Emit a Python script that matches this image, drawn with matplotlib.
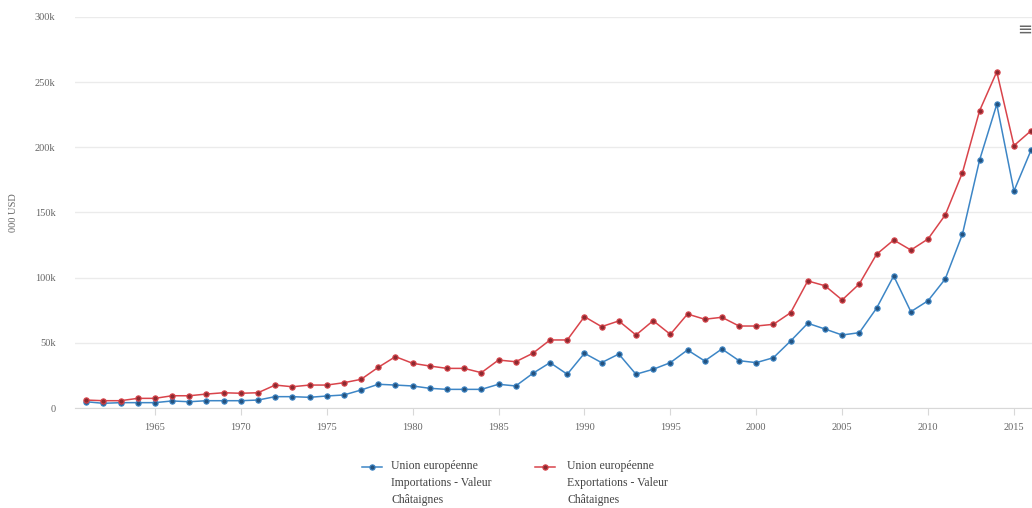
import matplotlib
matplotlib.use("Agg")
import matplotlib.pyplot as plt
from matplotlib.lines import Line2D

# years 1961 - 2016
years = list(range(1961, 2017))

# Union européenne, Importations - Valeur, Châtaignes (000 USD, in k)
imports_k = [4.8, 3.6, 4.1, 4.1, 4.1, 5.4, 4.8, 5.6, 5.6, 5.6,
             6.1, 8.7, 8.7, 8.2, 9.2, 10.0, 13.8, 18.2, 17.6, 16.9,
             15.1, 14.3, 14.3, 14.3, 18.2, 16.9, 26.6, 34.8, 25.9, 42.0,
             34.8, 41.4, 25.9, 29.7, 34.8, 44.5, 36.1, 45.3, 36.3, 34.8,
             38.6, 51.4, 65.0, 60.6, 56.0, 57.8, 76.5, 101.3, 73.9, 82.3,
             99.0, 133.3, 190.3, 233.0, 166.5, 198.0]

# Union européenne, Exportations - Valeur, Châtaignes (000 USD, in k)
exports_k = [6.1, 5.6, 5.6, 7.4, 7.4, 9.4, 9.4, 10.7, 11.7, 11.3,
             11.7, 17.6, 16.3, 17.6, 17.6, 19.4, 22.0, 31.2, 39.4, 34.3,
             32.2, 30.4, 30.4, 27.1, 36.8, 35.5, 42.0, 52.2, 52.2, 70.1,
             62.4, 66.8, 56.0, 67.0, 56.5, 72.1, 68.1, 69.6, 62.9, 62.9,
             64.2, 73.1, 97.5, 93.8, 82.9, 95.2, 117.9, 128.9, 121.2, 129.7,
             148.1, 180.5, 228.1, 258.0, 201.3, 212.8]

x_ticks = [1965, 1970, 1975, 1980, 1985, 1990, 1995, 2000, 2005, 2010, 2015]
y_ticks = [0, 50, 100, 150, 200, 250, 300]
y_tick_labels = ["0", "50k", "100k", "150k", "200k", "250k", "300k"]

label_imp = "Union européenne\nImportations - Valeur\nChâtaignes"
label_exp = "Union européenne\nExportations - Valeur\nChâtaignes"

blue = "#3d86c6"
red = "#d9444b"
blue_dark = "#24527f"
red_dark = "#8c2a30"
txt = "#666666"

W, H = 1032, 508
fig = plt.figure(figsize=(W / 100, H / 100), dpi=100)
ax = fig.add_axes([75 / W, 1 - 408 / H, (W - 75) / W, 391 / H])

ax.plot(years, imports_k, color=blue, lw=1.1, marker="o", ms=3.8,
        mfc=blue_dark, mec=blue, mew=0.8, clip_on=False, zorder=3)
ax.plot(years, exports_k, color=red, lw=1.1, marker="o", ms=3.8,
        mfc=red_dark, mec=red, mew=0.8, clip_on=False, zorder=3)

ax.set_xlim(1960.35, 2016.05)
ax.set_ylim(0, 300)
ax.set_yticks(y_ticks)
ax.set_yticklabels(y_tick_labels)
ax.set_xticks(x_ticks)
ax.grid(axis="y", color="#ebebeb", lw=1)
ax.set_axisbelow(True)

for s in ["top", "right", "left"]:
    ax.spines[s].set_visible(False)
ax.spines["bottom"].set_color("#d8d8d8")
ax.tick_params(axis="y", length=0, pad=14, labelsize=7.5, labelcolor=txt)
ax.tick_params(axis="x", length=5, color="#d8d8d8", pad=6, labelsize=7.5, labelcolor=txt)
for lab in ax.get_xticklabels() + ax.get_yticklabels():
    lab.set_family("Liberation Serif")

ax.set_ylabel("000 USD", fontsize=7.5, color=txt, family="Liberation Serif", labelpad=12)

# legend drawn by hand so the symbol sits on the first text line
def legend_entry(x0, xt, color, dark, label):
    y = 1 - 467 / H
    fig.add_artist(Line2D([x0 / W, (x0 + 20) / W], [y, y], color=color, lw=1.1,
                          transform=fig.transFigure))
    fig.add_artist(Line2D([(x0 + 10) / W], [y], marker="o", ms=3.8, mfc=dark,
                          mec=color, mew=0.8, transform=fig.transFigure))
    fig.text(xt / W, 1 - 460 / H, label, fontsize=8.5, color="#444444",
             family="Liberation Serif", ha="left", va="top", linespacing=1.55)

legend_entry(362, 391, blue, blue_dark, label_imp)
legend_entry(535, 567, red, red_dark, label_exp)

fig.text(1025 / W, 1 - 30 / H, "≡", fontsize=13, color="#666666",
         ha="center", va="center")

fig.savefig("out.png", dpi=100)
